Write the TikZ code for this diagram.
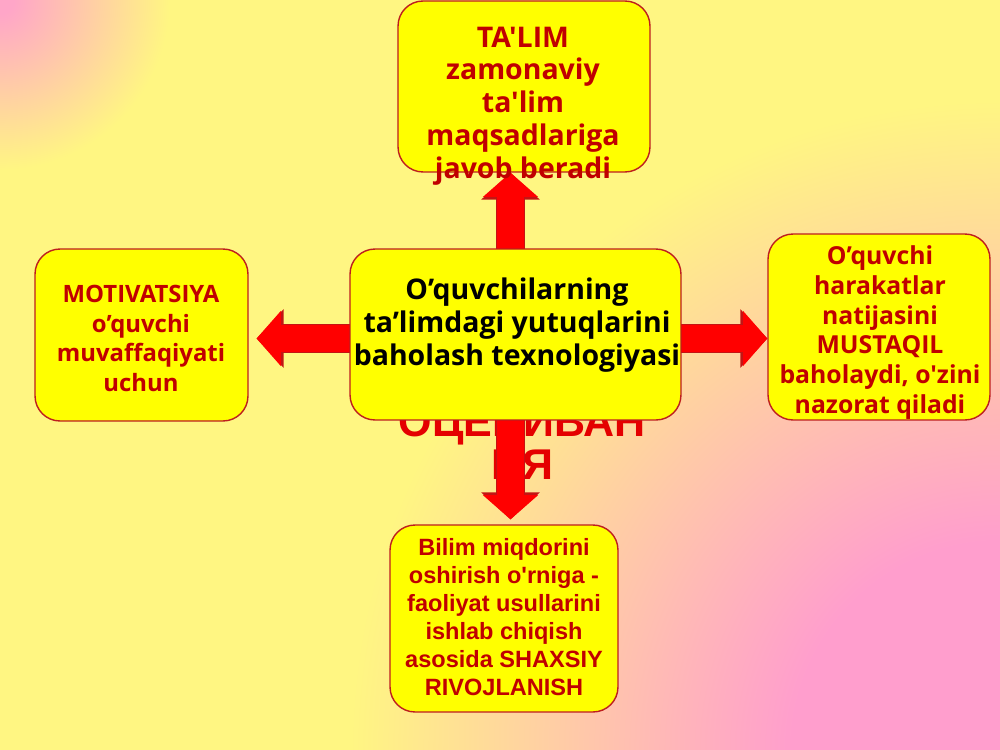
\documentclass[tikz,border=0pt]{standalone}
\usepackage{fontspec}
\setmainfont{Open Sans}[Ligatures=TeXOff]
\newfontfamily\arialfont{Liberation Sans}[Ligatures=TeXOff]
\usetikzlibrary{arrows.meta}

\definecolor{bgyellow}{RGB}{255,246,130}
\definecolor{pinktl}{RGB}{255,166,200}
\definecolor{pinkbr}{RGB}{255,158,205}
\definecolor{boxyellow}{RGB}{255,255,0}
\definecolor{boxline}{RGB}{190,30,30}
\definecolor{textred}{RGB}{192,0,0}
\definecolor{hiddenred}{RGB}{228,0,0}
\definecolor{arrowred}{RGB}{255,0,0}
\definecolor{arrowline}{RGB}{195,20,20}

\pgfdeclareradialshading{tlpink}{\pgfpointorigin}{color(0bp)=(pinktl); color(2bp)=(pinktl); color(25bp)=(bgyellow); color(50bp)=(bgyellow)}
\pgfdeclareradialshading{brpink}{\pgfpointorigin}{color(0bp)=(pinkbr); color(8bp)=(pinkbr); color(25bp)=(bgyellow); color(50bp)=(bgyellow)}

\tikzset{
  box/.style={draw=boxline, line width=0.8pt, fill=boxyellow, rounded corners=0.5cm, inner sep=0pt},
  redtext/.style={text=textred, align=center, inner sep=0pt, font=\bfseries\fontsize{13.6}{17}\selectfont},
  bigtext/.style={align=center, inner sep=0pt, font=\bfseries\fontsize{16.2}{18.7}\selectfont},
  arialtext/.style={text=textred, align=center, inner sep=0pt, font=\arialfont\bfseries\fontsize{13.4}{15.9}\selectfont},
  arrowback/.style={draw=arrowline, line width=16.6pt, -{Triangle[width=32.6pt,length=15.4pt]}},
  arrowfront/.style={draw=arrowred, line width=15.3pt, -{Triangle[width=30.6pt,length=13.8pt]}},
}

\begin{document}
\begin{tikzpicture}[x=0.02cm, y=-0.02cm]
  \useasboundingbox (0,0) rectangle (1000,750);
  % background
  \begin{scope}
    \clip (0,0) rectangle (1000,750);
    \fill[bgyellow] (0,0) rectangle (1000,750);
    \shade[shading=brpink] (1000,750) circle (13cm);
    \shade[shading=tlpink] (0,0) circle (3.4cm);
  \end{scope}

  % text lying under the middle box
  \node[text=hiddenred, align=center, inner sep=0pt,
        font=\arialfont\bfseries\fontsize{24.5}{24.4}\selectfont] (ocenka) at (522,443) {ОЦЕНИВАН\\ИЯ};

  \node[box, minimum width=5.04cm, minimum height=3.42cm] (talim) at (524,86.5) {};
  \node[box, minimum width=4.26cm, minimum height=3.44cm] (motiv) at (141.5,335) {};
  \node[box, minimum width=4.44cm, minimum height=3.72cm] (mustaqil) at (879,327) {};
  \node[box, minimum width=4.56cm, minimum height=3.74cm] (bilim) at (504,618.5) {};

  % arrows
  \coordinate (axis) at (510.5,338.5);
  \foreach \style in {arrowback, arrowfront} {
    \draw[\style] (axis) -- (axis |- talim.south);
    \draw[\style, shorten >=2.8pt] (axis) -- (axis |- bilim.north);
    \draw[\style, shorten >=4.5pt] (axis) -- (axis -| motiv.east);
    \draw[\style] (axis) -- (axis -| mustaqil.west);
  }

  \node[box, minimum width=6.62cm, minimum height=3.42cm] (centre) at (515.5,334.5) {};

  \node[bigtext, text=textred] (talimtext) at (523,106)
    {TA'LIM\\zamonaviy\\ta'lim\\maqsadlariga\\javob beradi};
  \node[bigtext] (centretext) at (517,325)
    {O’quvchilarning\\ta’limdagi yutuqlarini\\baholash texnologiyasi};
  \node[redtext] (motivtext) at (141,338.5)
    {MOTIVATSIYA\\o’quvchi\\muvaffaqiyati\\uchun};
  \node[redtext, font=\bfseries\fontsize{14.1}{17}\selectfont] (mustaqiltext) at (880,332.5)
    {O’quvchi\\harakatlar\\natijasini\\MUSTAQIL\\baholaydi, o'zini\\nazorat qiladi};
  \node[arialtext] (bilimtext) at (504,617)
    {Bilim miqdorini\\oshirish o'rniga -\\faoliyat usullarini\\ishlab chiqish\\asosida SHAXSIY\\RIVOJLANISH};
\end{tikzpicture}
\end{document}
